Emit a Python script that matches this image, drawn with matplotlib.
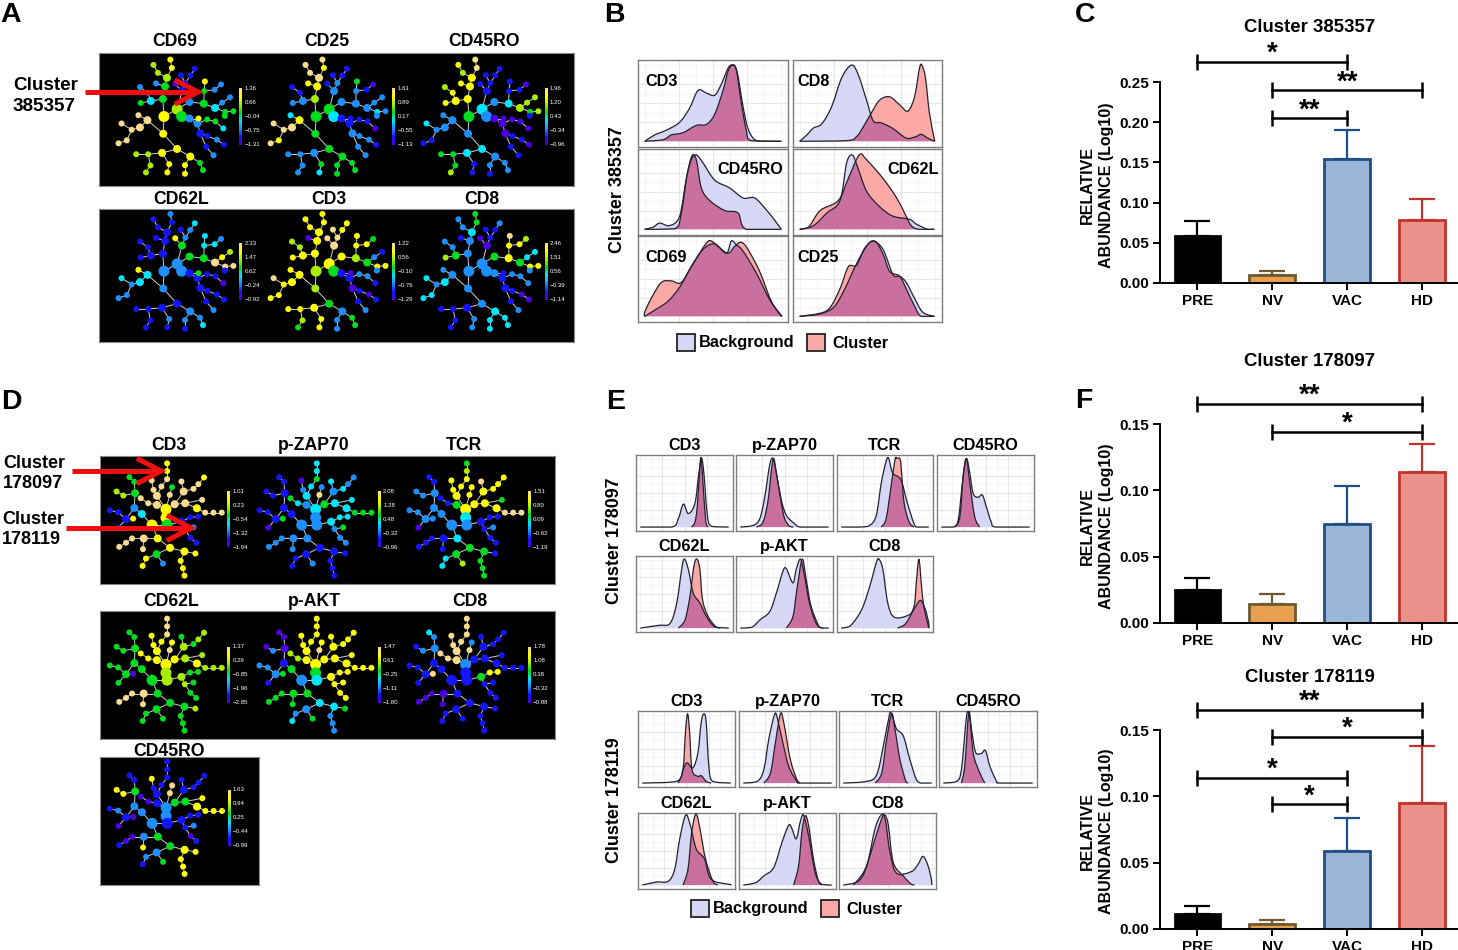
import matplotlib
matplotlib.use("Agg")
import matplotlib.pyplot as plt
import numpy as np
from matplotlib.collections import LineCollection
from matplotlib.colors import LinearSegmentedColormap
from matplotlib.patches import PathPatch, Rectangle
from matplotlib.path import Path

plt.rcParams['font.family'] = ['Liberation Sans', 'DejaVu Sans']
plt.rcParams['font.weight'] = 'bold'

W, H = 1458, 950

# ---- bar charts
groups = ["PRE", "NV", "VAC", "HD"]
c_means = [0.058, 0.009, 0.154, 0.078]
c_tops = [0.077, 0.015, 0.191, 0.105]
c_yticks = [0.00, 0.05, 0.10, 0.15, 0.20, 0.25]
c_sig = [(0, 2, 0.275, "*"), (1, 3, 0.240, "**"), (1, 2, 0.205, "**")]
f_means = [0.025, 0.014, 0.075, 0.114]
f_tops = [0.034, 0.022, 0.103, 0.135]
f_sig = [(0, 3, 0.165, "**"), (1, 3, 0.144, "*")]
g_means = [0.011, 0.004, 0.059, 0.095]
g_tops = [0.017, 0.007, 0.084, 0.138]
g_sig = [(0, 3, 0.165, "**"), (1, 3, 0.145, "*"), (0, 2, 0.114, "*"), (1, 2, 0.094, "*")]
small_yticks = [0.00, 0.05, 0.10, 0.15]

# ---- tree layouts: x, y, size class, parent
tree_a = [(435,349,2,-1),(432,296,1,0),(433,401,1,0),(470,327,2,0),(482,349,2,3),(438,258,1,1),(443,232,1,5),
    (419,217,0,6),(407,193,0,7),(456,202,0,6),(452,177,0,9),(414,249,0,5),(400,302,1,1),(373,308,0,12),
    (392,277,0,12),(371,260,0,14),(483,272,1,3),(465,250,0,16),(492,248,0,16),(480,224,0,18),(505,225,0,18),
    (517,205,0,20),(503,305,1,3),(541,310,1,22),(542,272,0,23),(544,243,0,24),(570,268,0,24),(587,252,0,26),
    (571,323,1,23),(590,307,0,28),(611,291,0,29),(598,335,0,28),(620,333,0,31),(597,347,0,31),(503,355,1,4),
    (524,370,1,34),(550,358,0,35),(572,364,0,36),(593,385,0,37),(527,355,0,34),(532,400,1,35),(551,408,0,40),
    (576,419,0,41),(595,434,0,42),(547,440,0,40),(567,466,0,44),(391,360,1,2),(371,382,1,46),(349,389,0,47),
    (322,370,0,48),(336,421,0,48),(314,430,0,50),(367,345,0,46),(470,447,1,2),(430,459,1,53),(393,463,0,54),
    (361,463,0,55),(399,497,0,55),(387,518,0,57),(449,493,0,54),(444,518,0,59),(505,470,1,53),(491,496,0,61),
    (491,522,0,62),(531,489,0,61),(539,511,0,64)]
tree_d = [(442,358,2,-1),(442,383,2,0),(445,405,2,1),(405,405,2,2),(420,445,1,3),(453,473,1,4),(418,318,1,0),
    (430,290,0,6),(445,268,0,7),(445,244,0,8),(445,221,0,9),(409,300,0,6),(404,272,0,11),(458,292,0,14),
    (452,315,0,0),(465,343,1,0),(489,305,1,15),(483,275,0,16),(515,297,0,16),(528,283,0,18),(543,263,0,19),
    (493,340,1,15),(538,330,0,21),(524,355,1,21),(546,368,0,23),(568,368,0,24),(590,368,0,25),(375,325,0,28),
    (395,340,0,29),(418,345,1,0),(360,310,1,32),(378,372,1,3),(358,354,1,31),(345,262,0,34),(358,276,0,30),
    (311,305,0,36),(329,317,0,30),(336,387,1,32),(315,367,0,37),(293,361,0,38),(316,413,0,37),(355,386,0,37),
    (483,395,1,2),(506,382,0,42),(527,380,0,43),(492,417,0,42),(515,412,0,45),(507,443,0,45),(522,458,0,47),
    (383,445,1,4),(352,445,0,49),(336,458,0,50),(318,470,0,51),(381,477,0,49),(417,492,1,5),(389,505,0,54),
    (380,527,0,55),(434,520,0,54),(491,484,1,5),(520,490,0,58),(481,512,0,58),(487,534,0,60),(491,556,0,61)]

# colour level of every node, one string per marker (0 purple ... 7 pale yellow)
a_cd69 = "6465445556" "6234221011" "1124462232" "2444224436" "1121127777" "7776655556" "666644"
a_cd25 = "4544367776" "7622112121" "1122241022" "2322111101" "2221226777" "6734222224" "344444"
a_cd45ro = "4623266567" "7666651111" "1123111055" "5451000000" "0110112223" "1123344451" "122122"
a_cd62l = "2122211111" "2111114621" "2344333276" "5771111104" "1111123323" "2261111112" "122123"
a_cd3 = "5656466666" "6066557777" "6665666442" "1662112210" "0101126667" "6664666546" "622244"
a_cd8 = "2222223224" "4145220011" "1246676543" "3662212221" "1100122323" "3322111112" "233333"
d_cd3 = "6646667776" "6774777777" "6776777777" "4324455111" "1611112117" "7777466266" "666"
d_zap = "3222213343" "3202742332" "2333444432" "1111111111" "0433324222" "2222111211" "111"
d_tcr = "6322346665" "4666666766" "6646777114" "2221122222" "0211112111" "1111433541" "444"
d_cd62l = "6554446677" "7666765445" "5556555666" "4444444444" "4054454447" "7777444445" "444"
d_akt = "6432436666" "6666766666" "6666666556" "0410002222" "1466666664" "4444223434" "222"
d_cd8 = "2111117777" "7772711111" "1111111777" "2113212111" "1746611110" "0000111111" "111"
d_cd45ro = "2212441111" "1167741111" "1466666001" "4221166121" "0011112012" "0016221466" "666"

# colour bar tick labels
ct_a = [["1.36","0.66","−0.04","−0.75","−1.31"], ["1.61","0.89","0.17","−0.55","−1.13"], ["1.96","1.20","0.43","−0.34","−0.96"],
        ["2.33","1.47","0.62","−0.24","−0.92"], ["1.22","0.56","−0.10","−0.76","−1.29"], ["2.46","1.51","0.56","−0.39","−1.14"]]
ct_d = [["1.01","0.23","−0.54","−1.32","−1.94"], ["2.08","1.28","0.48","−0.32","−0.96"], ["1.51","0.80","0.09","−0.62","−1.19"],
        ["1.37","0.26","−0.85","−1.96","−2.85"], ["1.47","0.61","−0.25","−1.11","−1.80"], ["1.78","1.08","0.38","−0.32","−0.88"],
        ["1.63","0.94","0.25","−0.44","−0.99"]]

# ---- density curves: (position, height)
b_cd3_bg = [(0,0),(30,20),(65,35),(105,60),(135,105),(160,160),(185,152),(210,145),(230,180),(250,230),(263,240),(277,220),(295,110),(310,40),(330,5),(355,0),(410,0)]
b_cd3_cl = [(0,0),(55,5),(80,20),(115,27),(155,50),(185,53),(210,85),(235,160),(250,220),(263,240),(275,225),(290,120),(305,35),(320,2),(410,0)]
b_cd8_bg = [(0,0),(22,20),(42,42),(67,55),(97,110),(127,200),(157,240),(177,210),(202,130),(222,65),(247,58),(282,40),(322,10),(352,15),(367,22),(387,10),(407,0)]
b_cd8_cl = [(0,0),(142,2),(172,15),(192,45),(217,90),(242,130),(272,140),(302,115),(327,95),(347,140),(362,230),(369,240),(380,200),(392,90),(407,5),(407,0)]
b_cd45_bg = [(0,0),(25,7),(45,20),(75,12),(105,42),(125,162),(140,222),(155,237),(175,212),(210,157),(255,132),(295,100),(330,100),(365,62),(395,22),(410,0)]
b_cd45_cl = [(0,0),(90,2),(110,52),(127,172),(142,234),(155,222),(170,132),(195,92),(240,60),(280,52),(305,0),(410,0)]
b_cd62_bg = [(0,0),(42,12),(82,52),(122,92),(142,212),(159,237),(174,202),(202,122),(242,72),(282,42),(332,32),(352,17),(387,0),(407,0)]
b_cd62_cl = [(0,0),(27,7),(62,60),(117,92),(147,162),(180,237),(202,222),(252,162),(292,102),(317,52),(337,12),(362,0),(407,0)]
b_cd69_bg = [(0,0),(35,23),(70,48),(105,93),(140,158),(175,213),(210,231),(245,201),(260,240),(275,228),(295,208),(335,138),(375,53),(410,0)]
b_cd69_cl = [(0,0),(0,13),(20,58),(50,108),(80,113),(110,108),(145,168),(185,233),(200,240),(220,223),(250,201),(270,223),(290,236),(310,213),(345,143),(380,48),(410,3),(410,0)]
b_cd25_bg = [(0,0),(62,8),(102,28),(132,78),(172,168),(202,223),(222,240),(252,213),(282,133),(302,128),(322,108),(347,58),(372,13),(407,0)]
b_cd25_cl = [(0,0),(62,10),(92,28),(122,88),(147,158),(172,163),(197,218),(227,240),(252,198),(272,143),(302,128),(322,88),(347,33),(367,0),(407,0)]

e_cd3_bg = [(0,0),(95,0),(115,25),(130,68),(145,40),(165,70),(177,160),(185,203),(192,160),(202,40),(215,2),(267,0)]
e_cd3_cl = [(155,0),(165,15),(172,60),(180,180),(184,203),(190,120),(198,15),(205,0)]
e_zap_bg = [(0,0),(39,5),(59,25),(74,90),(89,185),(99,203),(109,160),(124,80),(139,35),(164,10),(184,0),(267,0)]
e_zap_cl = [(49,0),(69,15),(84,80),(94,170),(101,203),(109,160),(124,70),(134,25),(149,2),(160,0)]
e_tcr_bg = [(0,0),(57,0),(87,5),(107,35),(122,130),(137,195),(145,203),(157,160),(182,140),(202,70),(222,10),(232,0),(267,0)]
e_tcr_cl = [(122,0),(137,25),(152,120),(164,200),(170,203),(180,200),(185,150),(192,70),(207,15),(222,0)]
e_cd45_bg = [(0,0),(36,0),(51,20),(66,150),(76,203),(86,160),(96,100),(111,88),(124,95),(136,60),(151,15),(166,0),(267,0)]
e_cd45_cl = [(41,0),(56,30),(66,150),(76,203),(86,130),(101,30),(116,0)]
e_cd62_bg = [(0,0),(55,8),(90,14),(110,74),(125,174),(133,204),(145,174),(160,104),(180,74),(200,34),(225,4),(267,0)]
e_cd62_cl = [(115,0),(135,24),(150,94),(162,184),(171,204),(180,174),(188,84),(205,34),(230,2),(240,0)]
e_akt_bg = [(0,0),(34,2),(59,24),(89,49),(109,104),(129,169),(139,176),(159,134),(169,174),(182,204),(194,154),(209,74),(229,14),(249,0),(267,0)]
e_akt_cl = [(139,0),(159,34),(171,114),(187,204),(199,144),(214,64),(239,2),(249,0)]
e_cd8_bg = [(0,0),(27,6),(62,54),(87,124),(107,194),(115,204),(127,174),(142,74),(162,32),(207,39),(227,64),(242,82),(257,54),(267,14),(267,0)]
e_cd8_cl = [(172,0),(197,14),(222,64),(229,134),(237,204),(245,124),(252,64),(265,9),(267,0)]

g_cd3_bg = [(0,0),(103,5),(123,40),(135,60),(153,45),(168,90),(178,180),(186,205),(193,180),(201,50),(213,5),(267,0)]
g_cd3_cl = [(108,0),(123,40),(131,160),(137,205),(143,150),(150,40),(168,20),(178,22),(193,5),(208,0)]
g_zap_bg = [(0,0),(42,5),(62,40),(77,130),(94,202),(102,195),(117,130),(137,50),(162,5),(172,0),(267,0)]
g_zap_cl = [(62,0),(82,30),(97,120),(112,205),(122,180),(142,70),(162,10),(172,0)]
g_tcr_bg = [(0,0),(71,5),(101,25),(121,110),(139,200),(146,205),(161,160),(181,140),(201,70),(221,10),(236,0),(267,0)]
g_tcr_cl = [(96,0),(116,30),(131,130),(146,205),(156,160),(171,70),(189,5),(196,0)]
g_cd45_bg = [(0,0),(39,5),(54,40),(69,195),(77,205),(87,140),(97,90),(114,88),(126,96),(139,50),(159,5),(169,0),(267,0)]
g_cd45_cl = [(54,0),(64,50),(74,190),(79,205),(89,90),(109,30),(124,0)]
g_cd62_bg = [(0,0),(43,9),(78,11),(98,47),(113,137),(131,207),(145,177),(163,107),(188,77),(208,17),(263,2),(267,0)]
g_cd62_cl = [(123,0),(138,47),(148,147),(158,202),(165,207),(176,157),(191,77),(213,12),(228,0)]
g_akt_bg = [(0,0),(37,7),(62,27),(92,52),(117,127),(137,177),(147,167),(160,137),(172,187),(182,207),(197,147),(217,37),(237,2),(267,0)]
g_akt_cl = [(152,0),(167,57),(177,157),(187,205),(197,177),(212,77),(227,12),(237,0)]
g_cd8_bg = [(0,0),(46,12),(71,57),(96,167),(114,207),(126,197),(141,97),(161,35),(206,40),(226,62),(241,85),(256,57),(266,17),(267,0)]
g_cd8_cl = [(31,0),(66,47),(96,137),(116,197),(126,207),(136,177),(151,67),(181,27),(206,2),(215,0)]

# ---- styles
level_colors = ['#4a00e0', '#1414ff', '#1e8fff', '#00e5ff', '#00dc20', '#a8ee00', '#ffff00', '#fbdc8e']
cmap = LinearSegmentedColormap.from_list("fsom", level_colors)
size_px = [6.0, 8.0, 11.0]
bar_fill = ["black", "#e8a04e", "#9bb5d6", "#e8928a"]
bar_edge = ["black", "#6e5a30", "#1f4e87", "#c0342d"]
BG, CL, BOTH = "#d6d7f5", "#fba9a6", "#c9709f"

fig = plt.figure(figsize=(W / 100, H / 100), dpi=100)


def ax_px(x0, y0, x1, y1):
    return fig.add_axes([x0 / W, 1 - y1 / H, (x1 - x0) / W, (y1 - y0) / H])


def tree_strip(box, xlim, ylim, nodes, panels, dy):
    # black strip, one tree plus colour bar per marker, all in picture units
    ax = ax_px(*box)
    ax.set_facecolor("black")
    ax.set_xticks([])
    ax.set_yticks([])
    for s in ax.spines.values():
        s.set_color("#8a8a8a")
        s.set_linewidth(0.8)
    for dx, cbx, levels, labels, top, bottom in panels:
        xs = np.array([n[0] for n in nodes]) + dx
        ys = np.array([n[1] for n in nodes]) + dy
        segs = [[(xs[i], ys[i]), (xs[n[3]], ys[n[3]])] for i, n in enumerate(nodes) if n[3] >= 0]
        ax.add_collection(LineCollection(segs, colors="#d0d0d0", linewidths=0.7, zorder=2))
        sizes = [(size_px[n[2]] * 0.72) ** 2 for n in nodes]
        cols = [level_colors[int(c)] for c in levels]
        ax.scatter(xs, ys, s=sizes, c=cols, linewidths=0, zorder=3)
        ax.imshow(np.linspace(1, 0, 100).reshape(-1, 1), cmap=cmap, aspect="auto", zorder=3,
                  extent=(cbx, cbx + 7, bottom + dy, top + dy))
        for lab, yy in zip(labels, np.linspace(top, bottom, 5)):
            ax.text(cbx + 14, yy + dy, lab, color="white", fontsize=4.4, fontweight="normal", va="center", ha="left")
    ax.set_xlim(*xlim)
    ax.set_ylim(*ylim)
    return ax


def curve_path(pts, closed):
    # bezier through the read points so the outline is not angular
    p = np.array(pts, dtype=float)
    q = np.vstack([p[0], p, p[-1]])
    verts, codes = [p[0]], [Path.MOVETO]
    for i in range(len(p) - 1):
        c1 = q[i + 1] + (q[i + 2] - q[i]) / 6
        c2 = q[i + 2] - (q[i + 3] - q[i + 1]) / 6
        c1[1], c2[1] = max(c1[1], 0), max(c2[1], 0)
        verts += [c1, c2, p[i + 1]]
        codes += [Path.CURVE4] * 3
    if closed:
        verts.append(p[0])
        codes.append(Path.CLOSEPOLY)
    return Path(verts, codes)


def density(box, bg, cl, xmax, ymax, pad, title=None):
    ax = ax_px(*box)
    ax.set_xlim(-pad, xmax + pad)
    ax.set_ylim(-pad * 0.9, ymax + pad * 0.8)
    ax.set_xticks(np.linspace(0, xmax, 5)[1:-1])
    ax.set_xticks(np.linspace(0, xmax, 9), minor=True)
    ax.set_yticks(np.linspace(0, ymax, 5)[1:-1])
    ax.set_yticks(np.linspace(0, ymax, 9), minor=True)
    ax.grid(True, which="major", color="#e6e6e6", lw=0.8)
    ax.grid(True, which="minor", color="#f0f0f0", lw=0.5)
    ax.tick_params(which="both", length=0, labelbottom=False, labelleft=False)
    ax.set_axisbelow(True)
    for s in ax.spines.values():
        s.set_color("#7d7d7d")
        s.set_linewidth(1.0)
    pbg = PathPatch(curve_path(bg, True), fc=BG, ec="none", zorder=2)
    ax.add_patch(pbg)
    ax.add_patch(PathPatch(curve_path(cl, True), fc=CL, ec="none", zorder=2.1))
    both = PathPatch(curve_path(cl, True), fc=BOTH, ec="none", zorder=2.2)
    ax.add_patch(both)
    both.set_clip_path(pbg)
    for curve in (bg, cl):
        ax.add_patch(PathPatch(curve_path(curve, False), fc="none", ec="#22222e", lw=0.9, zorder=3))
    if title:
        ax.text(0.5, 1.03, title, transform=ax.transAxes, ha="center", va="bottom", fontsize=11.7)
    return ax


def bars(box, ylim, yticks, means, tops, sig):
    ax = ax_px(*box)
    ax.patch.set_alpha(0)
    x = np.arange(len(groups))
    ax.bar(x, means, width=0.61, color=bar_fill, edgecolor=bar_edge, linewidth=2.0, zorder=2)
    for i in x:
        ax.errorbar(i, means[i], yerr=[[0], [tops[i] - means[i]]], color=bar_edge[i], lw=1.6,
                    capsize=9.5, capthick=1.6, zorder=1, clip_on=False)
    ax.set_xlim(-0.5, 3.48)
    ax.set_ylim(*ylim)
    ax.set_xticks(x, groups, fontsize=11)
    ax.set_yticks(yticks, ["%.2f" % v for v in yticks], fontsize=11)
    ax.spines[["top", "right"]].set_visible(False)
    ax.spines[["left", "bottom"]].set_linewidth(1.4)
    ax.tick_params(width=1.4, length=5, pad=3)
    for a, b, y, stars in sig:
        ax.plot([a, b], [y, y], "-|", color="black", lw=1.8, ms=11, mew=1.8, clip_on=False)
        ax.annotate(stars, xy=((a + b) / 2, y), xytext=(0, -3.5), textcoords="offset points",
                    ha="center", va="bottom", fontsize=20, annotation_clip=False)
    return ax


# ---- panel A
tree_strip((99, 53, 574, 186), (262, 1527), (559, 157), tree_a,
           [(0, 635, a_cd69, ct_a[0], 265, 435), (405, 1043, a_cd25, ct_a[1], 265, 435), (812, 1449, a_cd45ro, ct_a[2], 265, 435)], 0)
tree_strip((99, 209, 574, 342), (262, 1527), (1026, 626), tree_a,
           [(0, 635, a_cd62l, ct_a[3], 265, 435), (405, 1043, a_cd3, ct_a[4], 265, 435), (812, 1449, a_cd8, ct_a[5], 265, 435)], 464)

# ---- panel D
tree_strip((100, 456, 555, 584), (267, 1474), (581, 199), tree_d,
           [(0, 605, d_cd3, ct_d[0], 305, 472), (397, 1004, d_zap, ct_d[1], 305, 472), (795, 1402, d_tcr, ct_d[2], 305, 472)], 0)
tree_strip((100, 611, 555, 739), (267, 1474), (1047, 664), tree_d,
           [(0, 605, d_cd62l, ct_d[3], 305, 472), (397, 1004, d_akt, ct_d[4], 305, 472), (795, 1402, d_cd8, ct_d[5], 305, 472)], 466)
tree_strip((100, 757, 259, 885), (267, 688), (1484, 1102), tree_d,
           [(0, 605, d_cd45ro, ct_d[6], 305, 472)], 895)

# ---- panel B
for box, bg, cl in [((638, 60, 788, 147), b_cd3_bg, b_cd3_cl), ((793, 60, 942, 147), b_cd8_bg, b_cd8_cl),
                    ((638, 149, 788, 235), b_cd45_bg, b_cd45_cl), ((793, 149, 942, 235), b_cd62_bg, b_cd62_cl),
                    ((638, 236, 788, 322), b_cd69_bg, b_cd69_cl), ((793, 236, 942, 322), b_cd25_bg, b_cd25_cl)]:
    density(box, bg, cl, 410, 240, 20)

# ---- panel E
density((636, 455, 733, 531), e_cd3_bg, e_cd3_cl, 267, 203, 13, "CD3")
density((736, 455, 833, 531), e_zap_bg, e_zap_cl, 267, 203, 13, "p-ZAP70")
density((837, 455, 933, 531), e_tcr_bg, e_tcr_cl, 267, 203, 13, "TCR")
density((937, 455, 1034, 531), e_cd45_bg, e_cd45_cl, 267, 203, 13, "CD45RO")
density((636, 556, 733, 632), e_cd62_bg, e_cd62_cl, 267, 203, 13, "CD62L")
density((736, 556, 833, 632), e_akt_bg, e_akt_cl, 267, 203, 13, "p-AKT")
density((837, 556, 933, 632), e_cd8_bg, e_cd8_cl, 267, 203, 13, "CD8")
density((638, 711, 735, 787), g_cd3_bg, g_cd3_cl, 267, 203, 13, "CD3")
density((739, 711, 836, 787), g_zap_bg, g_zap_cl, 267, 203, 13, "p-ZAP70")
density((839, 711, 936, 787), g_tcr_bg, g_tcr_cl, 267, 203, 13, "TCR")
density((939, 711, 1037, 787), g_cd45_bg, g_cd45_cl, 267, 203, 13, "CD45RO")
density((638, 813, 735, 889), g_cd62_bg, g_cd62_cl, 267, 203, 13, "CD62L")
density((739, 813, 836, 889), g_akt_bg, g_akt_cl, 267, 203, 13, "p-AKT")
density((839, 813, 936, 889), g_cd8_bg, g_cd8_cl, 267, 203, 13, "CD8")

# ---- panels C, F and the lower one
bars((1160, 82.3, 1458, 282.7), (0, 0.25), c_yticks, c_means, c_tops, c_sig)
bars((1160, 424, 1458, 623), (0, 0.15), small_yticks, f_means, f_tops, f_sig)
bars((1160, 730, 1458, 929), (0, 0.15), small_yticks, g_means, g_tops, g_sig)

# ---- everything in picture coordinates on top
ov = fig.add_axes([0, 0, 1, 1])
ov.set_xlim(0, W)
ov.set_ylim(H, 0)
ov.axis("off")
ov.patch.set_alpha(0)

for lab, x, y in [("A", 0, 15), ("B", 604, 15), ("C", 1075, 15), ("D", 1, 402), ("E", 606, 402), ("F", 1075, 401)]:
    ov.text(x, y, lab, fontsize=20.5, ha="left", va="center")

tree_titles = [("CD69", 175, 42), ("CD25", 327, 42), ("CD45RO", 484, 42), ("CD62L", 181, 200), ("CD3", 329, 200), ("CD8", 482, 200),
               ("CD3", 169, 446), ("p-ZAP70", 314, 446), ("TCR", 464, 446), ("CD62L", 171, 601), ("p-AKT", 314, 601), ("CD8", 470, 601),
               ("CD45RO", 169, 751)]
for t, x, y in tree_titles:
    ov.text(x, y, t, fontsize=12.7, ha="center", va="center")

for t, x, y, fs in [("Cluster\n385357", 13, 96, 13.6), ("Cluster\n178097", 3, 473.5, 13), ("Cluster\n178119", 2, 529.5, 13)]:
    ov.text(x, y, t, fontsize=fs, ha="left", va="center", linespacing=1.25)

# red arrows
for x0, x1, xb, y, dy in [(85, 198, 177, 92, 11), (72, 161, 139, 471, 11.5), (66, 191, 169, 528, 11.5)]:
    ov.plot([x0, x1], [y, y], color="#f00f0f", lw=3.6, solid_capstyle="butt", zorder=5)
    ov.plot([xb, x1, xb], [y - dy, y, y + dy], color="#f00f0f", lw=3.6, solid_joinstyle="miter", zorder=5)

for t, x, y in [("Cluster 385357", 618, 190), ("Cluster 178097", 615, 541), ("Cluster 178119", 615, 800)]:
    ov.text(x, y, t, fontsize=12.9, rotation=90, ha="center", va="center")

for t, x, y in [("CD3", 645, 81), ("CD8", 797, 81), ("CD69", 645, 257), ("CD25", 797, 257)]:
    ov.text(x, y, t, fontsize=11.7, ha="left", va="center")
for t, x, y in [("CD45RO", 783, 170), ("CD62L", 939, 170)]:
    ov.text(x, y, t, fontsize=11.7, ha="right", va="center")

# legends
for sx, tx, col, t, y in [(677, 699, BG, "Background", 342), (807, 832, CL, "Cluster", 342),
                          (691, 713, BG, "Background", 908), (821, 846, CL, "Cluster", 908)]:
    ov.add_patch(Rectangle((sx, y - 8.5), 18, 17, fc=col, ec="#222222", lw=1.3))
    ov.text(tx, y + 5.5, t, fontsize=11.8, ha="left", va="baseline")

for t, y in [("Cluster 385357", 27), ("Cluster 178097", 361), ("Cluster 178119", 678)]:
    ov.text(1310, y, t, fontsize=13.4, ha="center", va="center")
for y in [185, 526, 831]:
    ov.text(1097, y, "RELATIVE\nABUNDANCE (Log10)", fontsize=11.5, rotation=90, ha="center", va="center",
            multialignment="center", linespacing=1.35)

fig.savefig("out.png", dpi=100)
